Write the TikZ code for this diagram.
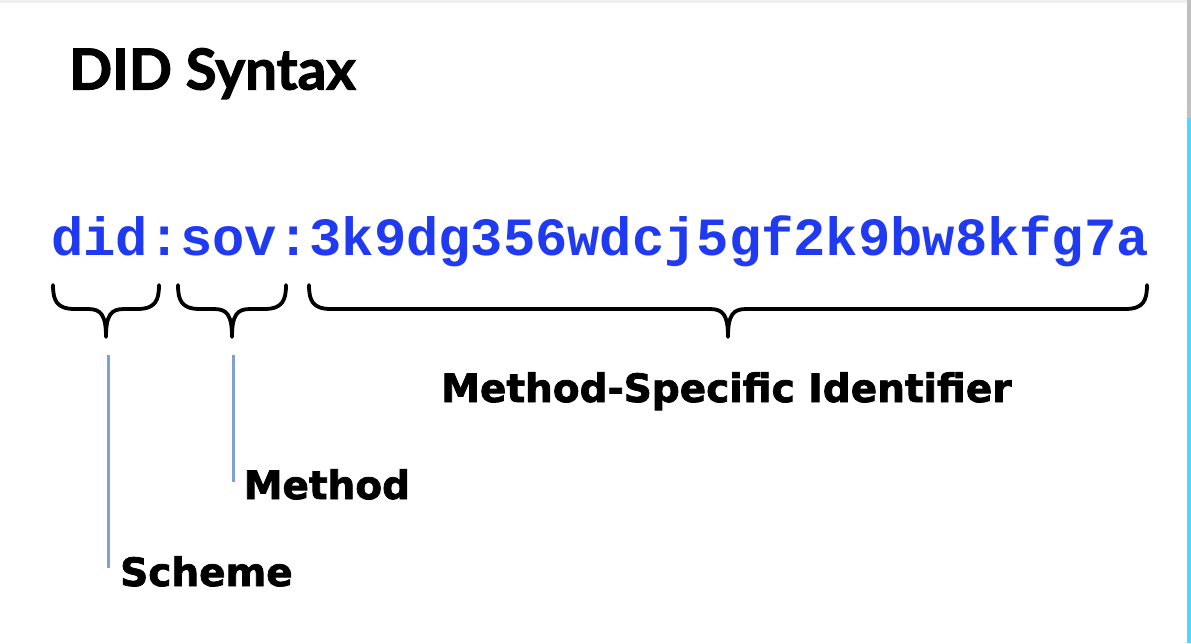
\documentclass[tikz,border=0pt]{standalone}
\usepackage{fontspec}
\newfontfamily\titlefont{Lato}[BoldFeatures={FakeBold=2}]
\newfontfamily\labelfont{DejaVu Sans}[BoldFeatures={FakeBold=2}]
\newfontfamily\codefont{Liberation Mono}
\definecolor{didblue}{RGB}{32,58,242}
\definecolor{leaderblue}{RGB}{125,160,215}
\definecolor{edgegray}{RGB}{192,192,192}
\definecolor{edgecyan}{RGB}{80,214,255}
\definecolor{topgray}{RGB}{238,238,238}
\tikzset{
  titletext/.style={anchor=base west, inner sep=0pt, font=\titlefont\bfseries\fontsize{56.5}{60}\selectfont},
  codetext/.style={anchor=base west, inner sep=0pt, text=didblue, font=\codefont\bfseries\fontsize{53.8}{60}\selectfont},
  labeltext/.style={anchor=base west, inner sep=0pt, font=\labelfont\bfseries\fontsize{39}{44}\selectfont},
  bracestroke/.style={draw=black, line width=3.8pt, line cap=round, line join=round},
  leader/.style={draw=leaderblue, line width=3pt}
}
\begin{document}
\begin{tikzpicture}[x=1pt,y=-1pt]
\useasboundingbox (0,0) rectangle (1191,643);
\fill[white] (0,0) rectangle (1191,643);
\fill[topgray] (0,0) rectangle (1191,3);
\fill[edgegray] (1187,0) rectangle (1191,118);
\fill[edgecyan] (1187,118) rectangle (1191,643);

\node[titletext] (title) at (69,89.5) {DID Syntax};
\node[codetext] (did) at (51,255) {did:sov:3k9dg356wdcj5gf2k9bw8kfg7a};

% braces
\path[bracestroke] (53,285) .. controls (53,301) and (57,309) .. (75,309) -- (88,309)
  .. controls (101,309) and (106,315) .. (106,337)
  .. controls (106,315) and (111,309) .. (124,309) -- (137,309)
  .. controls (155,309) and (159,301) .. (159,285);
\path[bracestroke] (178,285) .. controls (178,301) and (182,309) .. (200,309) -- (214,309)
  .. controls (227,309) and (232,315) .. (232,337)
  .. controls (232,315) and (237,309) .. (250,309) -- (264,309)
  .. controls (282,309) and (286,301) .. (286,285);
\path[bracestroke] (309,285) .. controls (309,301) and (313,309) .. (331,309) -- (710,309)
  .. controls (723,309) and (728,315) .. (728,337)
  .. controls (728,315) and (733,309) .. (746,309) -- (1125,309)
  .. controls (1143,309) and (1147,301) .. (1147,285);

\node[labeltext] (msi) at (441,402) {Method-Specific Identifier};
\node[labeltext] (method) at (243.5,499) {Method};
\node[labeltext] (scheme) at (120,586) {Scheme};

\coordinate (schemetop) at (108,355);
\coordinate (schemebot) at (108,568);
\coordinate (methodtop) at (233,355);
\coordinate (methodbot) at (233,482);
\draw[leader] (schemetop) -- (schemebot);
\draw[leader] (methodtop) -- (methodbot);
\end{tikzpicture}
\end{document}
